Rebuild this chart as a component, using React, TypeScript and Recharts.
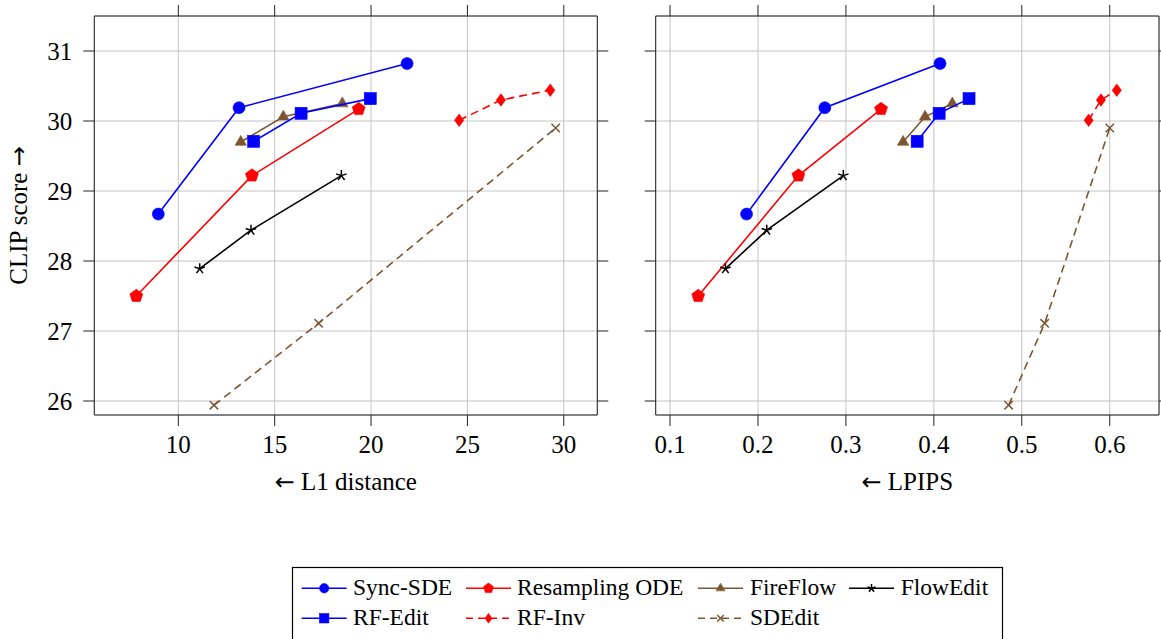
import React from 'react';
import { ScatterChart, Scatter, XAxis, YAxis, CartesianGrid } from 'recharts';

// ---------- data ----------
const seriesNames = ['Sync-SDE', 'Resampling ODE', 'FireFlow', 'FlowEdit', 'RF-Edit', 'RF-Inv', 'SDEdit'];

const syncSdeL1 = [8.96, 13.15, 21.87];
const syncSdeLpips = [0.187, 0.276, 0.407];
const syncSdeClip = [28.67, 30.19, 30.82];

const resamplingL1 = [7.82, 13.82, 19.36];
const resamplingLpips = [0.132, 0.246, 0.34];
const resamplingClip = [27.5, 29.22, 30.17];

const fireFlowL1 = [13.24, 15.45, 18.51];
const fireFlowLpips = [0.365, 0.39, 0.421];
const fireFlowClip = [29.7, 30.06, 30.25];

const flowEditL1 = [11.11, 13.77, 18.46];
const flowEditLpips = [0.163, 0.21, 0.297];
const flowEditClip = [27.89, 28.44, 29.22];

const rfEditL1 = [13.91, 16.37, 19.96];
const rfEditLpips = [0.381, 0.406, 0.44];
const rfEditClip = [29.71, 30.11, 30.32];

const rfInvL1 = [24.57, 26.74, 29.3];
const rfInvLpips = [0.576, 0.59, 0.608];
const rfInvClip = [30.01, 30.3, 30.44];

const sdEditL1 = [11.85, 17.28, 29.58];
const sdEditLpips = [0.485, 0.526, 0.6];
const sdEditClip = [25.94, 27.11, 29.9];

const l1Ticks = [10, 15, 20, 25, 30];
const lpipsTicks = [0.1, 0.2, 0.3, 0.4, 0.5, 0.6];
const clipTicks = [26, 27, 28, 29, 30, 31];

const l1LabelText = 'L1 distance';
const lpipsLabelText = 'LPIPS';
const clipLabelText = 'CLIP score';
const leftArrow = '\u2190';
const rightArrow = '\u2192';

// ---------- styles ----------
type MarkerKind = 'circle' | 'pentagon' | 'triangle' | 'star' | 'square' | 'diamond' | 'x';
interface Style { color: string; marker: MarkerKind; dashed: boolean }
const BROWN = '#7d5631';
const styles: Style[] = [
  { color: '#0000ff', marker: 'circle', dashed: false },
  { color: '#ff0000', marker: 'pentagon', dashed: false },
  { color: BROWN, marker: 'triangle', dashed: false },
  { color: '#000000', marker: 'star', dashed: false },
  { color: '#0000ff', marker: 'square', dashed: false },
  { color: '#ff0000', marker: 'diamond', dashed: true },
  { color: BROWN, marker: 'x', dashed: true },
];

const seriesL1 = [syncSdeL1, resamplingL1, fireFlowL1, flowEditL1, rfEditL1, rfInvL1, sdEditL1];
const seriesLpips = [syncSdeLpips, resamplingLpips, fireFlowLpips, flowEditLpips, rfEditLpips, rfInvLpips, sdEditLpips];
const seriesClip = [syncSdeClip, resamplingClip, fireFlowClip, flowEditClip, rfEditClip, rfInvClip, sdEditClip];

const FONT = "'Liberation Serif', 'DejaVu Serif', serif";
const ARROW_FONT = "'DejaVu Sans', sans-serif";

function renderMarker(kind: MarkerKind, cx: number, cy: number, color: string, s: number, key?: string) {
  if (cx == null || cy == null || isNaN(cx) || isNaN(cy)) return <g key={key} />;
  switch (kind) {
    case 'circle':
      return <circle key={key} cx={cx} cy={cy} r={6 * s} fill={color} stroke={color} strokeWidth={0.6} />;
    case 'square': {
      const h = 6 * s;
      return <rect key={key} x={cx - h} y={cy - h} width={2 * h} height={2 * h} fill={color} stroke={color} strokeWidth={0.6} />;
    }
    case 'pentagon': {
      const r = 6.8 * s;
      const pts = [0, 1, 2, 3, 4]
        .map((k) => {
          const a = (-90 + 72 * k) * (Math.PI / 180);
          return `${cx + r * Math.cos(a)},${cy + r * Math.sin(a)}`;
        })
        .join(' ');
      return <polygon key={key} points={pts} fill={color} stroke={color} strokeWidth={0.6} />;
    }
    case 'triangle': {
      const r = 6.6 * s;
      const pts = `${cx},${cy - r} ${cx + r * 0.866},${cy + r / 2} ${cx - r * 0.866},${cy + r / 2}`;
      return <polygon key={key} points={pts} fill={color} stroke={color} strokeWidth={0.6} />;
    }
    case 'diamond': {
      const h = 6.3 * s;
      const w = 4.6 * s;
      const pts = `${cx},${cy - h} ${cx + w},${cy} ${cx},${cy + h} ${cx - w},${cy}`;
      return <polygon key={key} points={pts} fill={color} stroke={color} strokeWidth={0.6} />;
    }
    case 'star': {
      const r = 5.5 * s;
      return (
        <g key={key} stroke={color} strokeWidth={1.5}>
          {[0, 1, 2, 3, 4].map((k) => {
            const a = (-90 + 72 * k) * (Math.PI / 180);
            return <line key={k} x1={cx} y1={cy} x2={cx + r * Math.cos(a)} y2={cy + r * Math.sin(a)} />;
          })}
        </g>
      );
    }
    case 'x': {
      const h = 4.2 * s;
      return (
        <g key={key} stroke={color} strokeWidth={1.5}>
          <line x1={cx - h} y1={cy - h} x2={cx + h} y2={cy + h} />
          <line x1={cx - h} y1={cy + h} x2={cx + h} y2={cy - h} />
        </g>
      );
    }
  }
  return <g key={key} />;
}

const EmptyTick = () => <g />;

interface PanelProps {
  xs: number[][];
  xDomain: [number, number];
  xTicks: number[];
  showYLabels: boolean;
  width: number;
  margin: { top: number; right: number; bottom: number; left: number };
}

const tickFont = { fontSize: 25, fill: '#000', fontFamily: FONT };
const tickLineStyle = { stroke: '#222', strokeWidth: 1 };

function Panel({ xs, xDomain, xTicks, showYLabels, width, margin }: PanelProps) {
  return (
    <ScatterChart width={width} height={500} margin={margin}>
      <CartesianGrid xAxisId="b" yAxisId="l" stroke="#c4c4c4" strokeWidth={1} />
      <XAxis
        xAxisId="b"
        type="number"
        dataKey="x"
        domain={xDomain}
        ticks={xTicks}
        interval={0}
        allowDataOverflow
        height={60}
        tickSize={11}
        tickMargin={9}
        stroke="#222"
        tickLine={tickLineStyle}
        tick={tickFont}
      />
      <XAxis
        xAxisId="t"
        orientation="top"
        type="number"
        dataKey="x"
        domain={xDomain}
        ticks={xTicks}
        interval={0}
        allowDataOverflow
        height={12}
        tickSize={11}
        stroke="#222"
        tickLine={tickLineStyle}
        tick={EmptyTick}
      />
      <YAxis
        yAxisId="l"
        type="number"
        dataKey="y"
        domain={[25.8, 31.5]}
        ticks={clipTicks}
        interval={0}
        allowDataOverflow
        width={showYLabels ? 60 : 12}
        tickSize={11}
        tickMargin={11}
        stroke="#222"
        tickLine={tickLineStyle}
        tick={showYLabels ? tickFont : EmptyTick}
      />
      <YAxis
        yAxisId="r"
        orientation="right"
        type="number"
        dataKey="y"
        domain={[25.8, 31.5]}
        ticks={clipTicks}
        interval={0}
        allowDataOverflow
        width={12}
        tickSize={11}
        stroke="#222"
        tickLine={tickLineStyle}
        tick={EmptyTick}
      />
      {seriesNames.map((name, i) => {
        const st = styles[i];
        const data = xs[i].map((x, j) => ({ x, y: seriesClip[i][j] }));
        return (
          <Scatter
            key={name}
            name={name}
            xAxisId="b"
            yAxisId="l"
            data={data}
            fill={st.color}
            stroke={st.color}
            isAnimationActive={false}
            line={{ stroke: st.color, strokeWidth: 1.6, strokeDasharray: st.dashed ? '8 5' : undefined, fill: 'none' }}
            lineType="joint"
            shape={(p: any) => renderMarker(st.marker, p.cx, p.cy, st.color, 1)}
          />
        );
      })}
    </ScatterChart>
  );
}

const legendSampleX = [301.7, 466, 698, 849];
const legendTextX = [353, 517, 750, 900.7];
const legendLineY = [588.3, 618.3];
const legendBaseY = [594.5, 625];

export default function App() {
  return (
    <div
      style={{
        position: 'absolute',
        left: 0,
        top: 0,
        width: 1161,
        height: 639,
        overflow: 'hidden',
        background: '#fff',
        fontFamily: FONT,
      }}
    >
      <div style={{ position: 'absolute', left: 0, top: 0 }}>
        <Panel
          xs={seriesL1}
          xDomain={[5.64, 31.74]}
          xTicks={l1Ticks}
          showYLabels={true}
          width={620}
          margin={{ top: 4, right: 10.7, bottom: 25, left: 34.3 }}
        />
      </div>
      <div style={{ position: 'absolute', left: 620, top: 0 }}>
        <Panel
          xs={seriesLpips}
          xDomain={[0.0837, 0.656]}
          xTicks={lpipsTicks}
          showYLabels={false}
          width={552}
          margin={{ top: 4, right: 1, bottom: 25, left: 23.7 }}
        />
      </div>
      <svg
        width={1161}
        height={639}
        style={{ position: 'absolute', left: 0, top: 0, pointerEvents: 'none' }}
        fontFamily={FONT}
      >
        <text x={345.8} y={490} textAnchor="middle" fontSize={25} fill="#000">
          <tspan fontFamily={ARROW_FONT} fontSize={24}>{leftArrow}</tspan>
          <tspan> {l1LabelText}</tspan>
        </text>
        <text x={907.3} y={490} textAnchor="middle" fontSize={25} fill="#000">
          <tspan fontFamily={ARROW_FONT} fontSize={24}>{leftArrow}</tspan>
          <tspan> {lpipsLabelText}</tspan>
        </text>
        <text
          x={27}
          y={215.5}
          transform="rotate(-90, 27, 215.5)"
          textAnchor="middle"
          fontSize={25}
          fill="#000"
        >
          <tspan>{clipLabelText} </tspan>
          <tspan fontFamily={ARROW_FONT} fontSize={24}>{rightArrow}</tspan>
        </text>
        <rect x={292.5} y={567.5} width={710} height={100} fill="#fff" stroke="#000" strokeWidth={1.2} />
        {seriesNames.map((name, i) => {
          const row = Math.floor(i / 4);
          const col = i % 4;
          const st = styles[i];
          const x0 = legendSampleX[col];
          const ly = legendLineY[row];
          return (
            <g key={name}>
              <line
                x1={x0}
                y1={ly}
                x2={x0 + 45}
                y2={ly}
                stroke={st.color}
                strokeWidth={1.6}
                strokeDasharray={st.dashed ? '7 5' : undefined}
              />
              {renderMarker(st.marker, x0 + 22.5, ly, st.color, 0.78)}
              <text x={legendTextX[col]} y={legendBaseY[row]} fontSize={23.5} fill="#000">
                {name}
              </text>
            </g>
          );
        })}
      </svg>
    </div>
  );
}
